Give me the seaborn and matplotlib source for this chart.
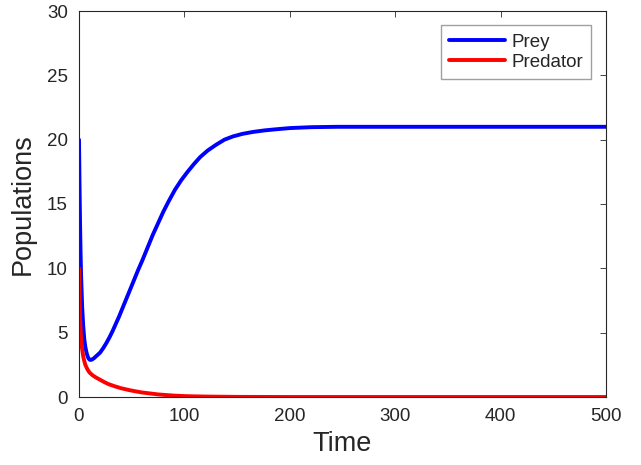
import numpy as np
import pandas as pd
import seaborn as sns
import matplotlib.pyplot as plt

# values
t_prey = [0, 0.5, 1, 1.5, 2, 3, 4, 5, 6, 7, 8, 9, 10, 11, 12, 14, 16, 18, 20, 23, 26, 29, 32, 35,
          38, 41, 44, 48, 52, 56, 60, 65, 70, 75, 80, 85, 91, 97, 103, 109, 115, 122, 130, 138,
          146, 155, 165, 176, 186, 200, 220, 245, 280, 350, 500]
prey = [20, 16.5, 13.5, 11.2, 9.4, 7.0, 5.5, 4.5, 3.9, 3.5, 3.2, 3.0, 2.9, 2.88, 2.9, 3.0, 3.15,
        3.3, 3.45, 3.8, 4.2, 4.65, 5.15, 5.7, 6.25, 6.85, 7.45, 8.25, 9.05, 9.85, 10.6, 11.6, 12.6,
        13.5, 14.4, 15.2, 16.1, 16.85, 17.5, 18.1, 18.65, 19.15, 19.6, 20.0, 20.25, 20.45, 20.6,
        20.72, 20.8, 20.9, 20.97, 21.0, 21.0, 21.0, 21.0]

t_pred = [0, 0.3, 0.6, 1, 1.5, 2, 3, 4, 5, 6, 8, 10, 13, 16, 20, 24, 28, 34, 40, 48, 55, 60,
          68, 75, 83, 90, 100, 110, 125, 150, 175, 200, 300, 400, 500]
pred = [10, 8.4, 7.2, 6.1, 5.2, 4.5, 3.7, 3.15, 2.8, 2.5, 2.15, 1.9, 1.68, 1.52, 1.34, 1.16, 1.0,
        0.83, 0.68, 0.53, 0.42, 0.35, 0.27, 0.2, 0.15, 0.11, 0.07, 0.05, 0.03, 0.01, 0.005, 0, 0, 0, 0]

df = pd.concat([
    pd.DataFrame({'Time': t_prey, 'Populations': prey, 'Species': 'Prey'}),
    pd.DataFrame({'Time': t_pred, 'Populations': pred, 'Species': 'Predator'}),
])

sns.set_style("white")
plt.rcParams['font.family'] = ['Liberation Sans', 'DejaVu Sans']

fig = plt.figure(figsize=(6.41, 4.65), dpi=100)
ax = fig.add_axes([79 / 641, 1 - 397 / 465, (606 - 79) / 641, (397 - 11) / 465])

sns.lineplot(data=df, x='Time', y='Populations', hue='Species',
             palette={'Prey': '#0000ff', 'Predator': '#ff0000'},
             linewidth=2.8, ax=ax, sort=False, estimator=None)

ax.set_xlim(0, 500)
ax.set_ylim(0, 30)
ax.set_xticks([0, 100, 200, 300, 400, 500])
ax.set_yticks([0, 5, 10, 15, 20, 25, 30])
ax.tick_params(direction='in', length=4, width=0.6, top=True, right=True,
               labelsize=13.5, colors='#262626', pad=8)
for s in ax.spines.values():
    s.set_color('#262626')
    s.set_linewidth(0.8)
ax.set_xlabel('Time', fontsize=19.5, color='#262626', labelpad=4)
ax.set_ylabel('Populations', fontsize=19.5, color='#262626', labelpad=8)

leg = ax.legend(loc='upper right', bbox_to_anchor=(0.972, 0.963), fontsize=13.5,
                frameon=True, fancybox=False, handlelength=3.0, borderpad=0.45,
                labelspacing=0.15, handletextpad=0.3, borderaxespad=0)
leg.get_frame().set_edgecolor('#888888')
leg.get_frame().set_linewidth(1.0)

fig.savefig('out.png', dpi=100)
